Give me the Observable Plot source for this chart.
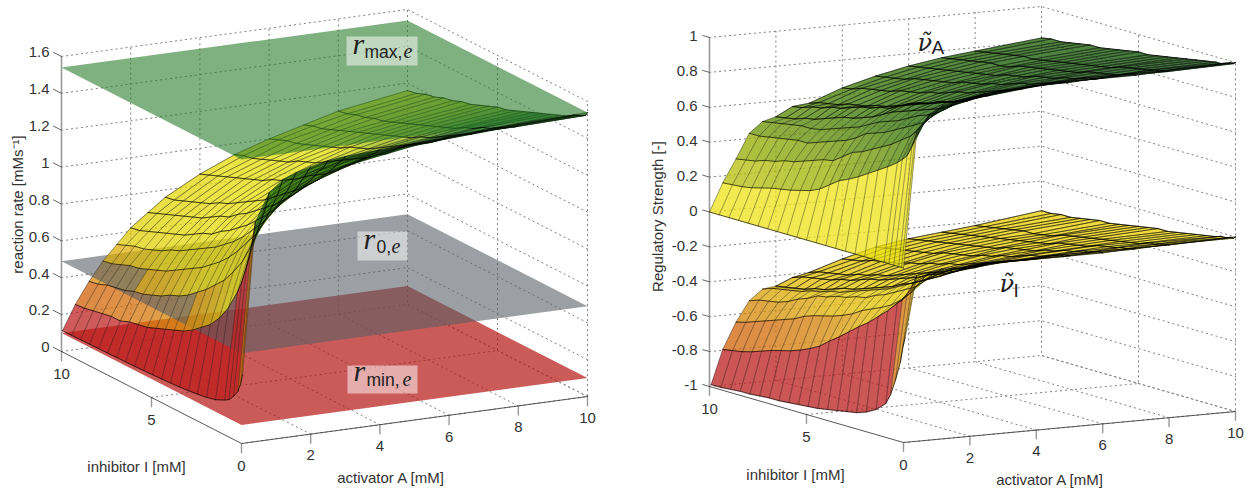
<!DOCTYPE html>
<html><head><meta charset="utf-8">
<script src="https://cdn.jsdelivr.net/npm/d3@7"></script>
<script src="https://cdn.jsdelivr.net/npm/@observablehq/plot@0.6"></script>
<style>body{margin:0;background:#fff}#c{display:flex;width:1245px;height:493px}#c svg{flex:none;display:block}</style>
</head><body><div id="c"></div>
<script>
const inhibitorLevels=[0,.1,.25,.5,.75,1,1.5,2,2.5,3,3.5,4,4.5,5,5.5,6,6.5,7,7.5,8,8.5,9,9.5,10];
const activatorRate=[.03,.4,.8,1.2,1.6,2,2.5,3,4,5,6,7,8,10];
const activatorNuA=[0,.4,.8,1.2,1.6,2,2.5,3,4,5,6,7,8,10];
const activatorNuI=[.05,.4,.8,1.2,1.6,2,2.5,3,4,5,6,7,8,10];
// reaction rate: one row per inhibitor level, one value per activator level
const rateRows=[
[.37,1.19,1.34,1.40,1.43,1.45,1.47,1.48,1.49,1.50,1.51,1.52,1.53,1.54],
[.32,1.12,1.29,1.37,1.41,1.43,1.45,1.46,1.48,1.49,1.50,1.51,1.51,1.52],
[.27,1.03,1.23,1.32,1.37,1.40,1.42,1.44,1.46,1.48,1.49,1.50,1.50,1.51],
[.23,.92,1.15,1.25,1.31,1.35,1.39,1.41,1.44,1.46,1.47,1.48,1.49,1.50],
[.20,.83,1.07,1.19,1.26,1.30,1.35,1.37,1.41,1.44,1.45,1.46,1.47,1.49],
[.185,.76,1.00,1.13,1.21,1.26,1.31,1.34,1.39,1.42,1.43,1.45,1.46,1.47],
[.162,.65,.89,1.03,1.12,1.19,1.24,1.28,1.34,1.37,1.40,1.42,1.43,1.45],
[.15,.57,.81,.96,1.05,1.12,1.18,1.23,1.30,1.34,1.37,1.39,1.41,1.43],
[.142,.51,.74,.89,.99,1.06,1.13,1.18,1.25,1.30,1.34,1.36,1.38,1.41],
[.136,.47,.69,.83,.93,1.01,1.08,1.14,1.21,1.27,1.31,1.33,1.36,1.39],
[.131,.43,.64,.78,.88,.96,1.04,1.10,1.18,1.24,1.28,1.31,1.33,1.37],
[.128,.40,.60,.74,.84,.92,1.00,1.06,1.15,1.21,1.25,1.28,1.31,1.35],
[.125,.38,.56,.70,.80,.88,.96,1.02,1.11,1.18,1.22,1.26,1.29,1.33],
[.123,.36,.53,.67,.77,.85,.93,.99,1.08,1.15,1.20,1.24,1.27,1.32],
[.121,.34,.51,.64,.74,.81,.89,.96,1.05,1.12,1.18,1.22,1.25,1.30],
[.119,.32,.48,.61,.71,.79,.87,.93,1.03,1.10,1.15,1.20,1.23,1.28],
[.118,.31,.46,.58,.68,.76,.84,.90,1.00,1.08,1.13,1.18,1.21,1.26],
[.117,.30,.44,.56,.66,.73,.81,.88,.98,1.05,1.11,1.16,1.19,1.25],
[.116,.28,.43,.54,.63,.71,.79,.85,.96,1.03,1.09,1.14,1.17,1.23],
[.115,.28,.41,.52,.61,.69,.77,.83,.94,1.01,1.07,1.12,1.16,1.22],
[.114,.27,.40,.51,.59,.67,.75,.81,.92,.99,1.05,1.10,1.14,1.20],
[.113,.26,.39,.49,.58,.65,.73,.79,.90,.97,1.04,1.08,1.13,1.19],
[.112,.25,.37,.47,.56,.63,.71,.77,.88,.96,1.02,1.07,1.11,1.17],
[.112,.245,.36,.46,.54,.62,.69,.76,.86,.94,1.00,1.05,1.10,1.16]];
// regulatory strength of the activator: one column per activator level, one value per inhibitor level
const nuAColumns=[
[0,0,0,0,0,0,0,0,0,0,0,0,0,0,0,0,0,0,0,0,0,0,0,0],
[.77,.73,.68,.62,.59,.565,.525,.49,.455,.42,.39,.365,.325,.285,.26,.245,.23,.22,.21,.195,.18,.17,.165,.16],
[.87,.85,.82,.78,.74,.71,.67,.63,.60,.57,.54,.52,.48,.44,.43,.41,.39,.37,.36,.34,.33,.31,.30,.29],
[.91,.90,.88,.84,.81,.78,.75,.72,.69,.66,.64,.62,.58,.55,.53,.51,.49,.47,.47,.46,.45,.44,.43,.43],
[.93,.92,.90,.87,.85,.83,.80,.78,.75,.72,.70,.68,.65,.62,.60,.58,.56,.54,.53,.53,.52,.51,.50,.49],
[.94,.93,.92,.90,.88,.86,.83,.81,.79,.77,.75,.73,.70,.67,.65,.63,.62,.60,.58,.56,.55,.53,.52,.51],
[.95,.95,.94,.92,.90,.88,.86,.84,.83,.80,.79,.77,.74,.71,.70,.68,.67,.65,.63,.62,.60,.59,.57,.56],
[.96,.96,.95,.93,.91,.90,.87,.85,.82,.80,.78,.76,.74,.72,.70,.68,.67,.65,.64,.63,.61,.60,.59,.57],
[.97,.97,.96,.95,.93,.92,.90,.88,.86,.84,.82,.81,.79,.77,.76,.74,.73,.72,.70,.69,.68,.67,.65,.64],
[.98,.97,.97,.96,.95,.94,.92,.90,.89,.87,.85,.84,.82,.81,.80,.78,.77,.76,.75,.74,.72,.71,.70,.69],
[.98,.98,.97,.96,.96,.95,.93,.92,.90,.89,.88,.86,.85,.84,.82,.81,.80,.79,.78,.77,.76,.75,.74,.73],
[.98,.98,.98,.97,.96,.95,.94,.93,.92,.90,.89,.88,.87,.86,.85,.84,.82,.81,.81,.80,.79,.78,.77,.76],
[.99,.98,.98,.97,.97,.96,.95,.94,.93,.91,.90,.89,.88,.87,.86,.85,.84,.83,.83,.82,.81,.80,.79,.78],
[1,.99,.99,.98,.97,.97,.96,.95,.94,.93,.92,.91,.90,.90,.89,.88,.87,.86,.86,.85,.84,.83,.83,.82]];
// regulatory strength of the inhibitor, written as height above -1
const nuIHeightColumns=[
[.6,.55,.45,.34,.25,.19,.14,.11,.09,.08,.07,.06,.05,.045,.04,.035,.03,.03,.025,.02,.02,.015,.01,.01],
[.95,.92,.88,.83,.785,.76,.70,.65,.60,.56,.515,.47,.43,.385,.355,.33,.31,.295,.28,.26,.24,.225,.215,.205],
[.96,.95,.93,.89,.85,.81,.755,.71,.68,.655,.63,.595,.57,.55,.535,.52,.50,.47,.45,.43,.41,.39,.37,.355],
[.97,.97,.95,.93,.90,.87,.82,.79,.76,.73,.71,.68,.67,.65,.64,.62,.61,.58,.56,.53,.51,.50,.49,.47],
[.97,.97,.96,.94,.92,.90,.86,.83,.80,.77,.74,.72,.70,.68,.66,.64,.63,.61,.60,.58,.57,.56,.55,.53],
[.98,.97,.96,.94,.92,.91,.87,.84,.81,.78,.76,.73,.71,.69,.67,.65,.64,.62,.60,.59,.57,.56,.55,.54],
[.98,.98,.97,.95,.94,.92,.89,.86,.84,.82,.79,.77,.75,.73,.71,.70,.68,.66,.65,.63,.62,.61,.60,.58],
[.98,.98,.97,.96,.95,.93,.90,.88,.86,.83,.81,.79,.77,.75,.73,.71,.70,.68,.67,.65,.64,.63,.62,.60],
[.98,.98,.97,.96,.95,.94,.92,.90,.88,.86,.84,.82,.81,.79,.78,.76,.75,.73,.72,.71,.70,.68,.67,.66],
[.98,.98,.97,.97,.96,.95,.93,.92,.90,.88,.87,.85,.84,.82,.81,.80,.79,.77,.76,.75,.74,.73,.72,.71],
[.98,.98,.98,.97,.96,.96,.94,.93,.91,.90,.88,.87,.86,.85,.83,.82,.81,.80,.79,.78,.77,.76,.75,.74],
[.99,.98,.98,.97,.97,.96,.95,.94,.92,.91,.90,.89,.87,.86,.85,.84,.83,.82,.81,.80,.79,.78,.77,.76],
[.99,.99,.98,.98,.97,.97,.95,.94,.93,.92,.91,.90,.89,.88,.87,.85,.84,.83,.83,.82,.81,.80,.79,.78],
[1,.99,.99,.98,.98,.97,.96,.95,.94,.93,.92,.92,.91,.90,.89,.88,.87,.87,.86,.85,.84,.84,.83,.83]];
const planeMin={level:.1,fill:"#b51611",op:.7};
const planeZero={level:.49,fill:"#5a5f66",op:.6};
const planeMax={level:1.54,fill:"#2a7b2a",op:.6};
const rateTicks=[0,.2,.4,.6,.8,1,1.2,1.4,1.6];
const strengthTicks=[-1,-.8,-.6,-.4,-.2,0,.2,.4,.6,.8,1];
const activatorTicks=[0,2,4,6,8,10];
const inhibitorTicks=[0,5,10];

const INK="#333",FONT="Liberation Sans, Arial, sans-serif",SERIF="Liberation Serif, serif";
const rows=(cols)=>d3.transpose(cols);
const fmt=v=>String(Math.round(v*10)/10);

function panel(cfg){
  const {p,width,ticksZ,zFloor}=cfg;
  const P=(A,I,z)=>[p.x0+p.xA*A+p.xI*I,p.y0+p.yA*A+p.yI*I-(z-zFloor)*p.u];
  const zTop=ticksZ[ticksZ.length-1];
  const flat=list=>list.flatMap((pts,g)=>pts.map(([x,y])=>({x,y,g})));
  const line=(list,o)=>Plot.line(flat(list),{x:"x",y:"y",z:"g",...o});
  const grid=[];
  for(const z of ticksZ) grid.push([P(0,10,z),P(10,10,z),P(10,0,z)]);
  for(const a of activatorTicks.slice(1)) grid.push([P(a,0,zFloor),P(a,10,zFloor),P(a,10,zTop)]);
  for(const i of inhibitorTicks.slice(0,-1)) grid.push([P(0,i,zFloor),P(10,i,zFloor),P(10,i,zTop)]);
  const marks=[
    line(grid,{stroke:"#808080",strokeWidth:1,strokeDasharray:"1.2 3.8"}),
    line([[P(0,10,zFloor),P(0,10,zTop)]],{stroke:"#999",strokeWidth:1.6}),
    line(activatorTicks.map(a=>[P(a,0,zFloor),P(a,0,zFloor-.05)]).concat([[P(0,10,zFloor),P(0,10,zFloor-.05)],[P(0,5,zFloor),P(0,5,zFloor-.05)]]),{stroke:"#999",strokeWidth:1.4}),
    line(ticksZ.map(z=>[P(0,10,z),P(0,10+cfg.zTick,z)]),{stroke:"#555",strokeWidth:.9}),
    line([[P(0,10,zFloor),P(0,0,zFloor),P(10,0,zFloor)]],{stroke:"#444",strokeWidth:.9})
  ];
  const planeMark=pl=>{const z=pl.level,ring=[P(0,0,z),P(10,0,z),P(10,10,z),P(0,10,z),P(0,0,z)];
    return Plot.geo([{type:"Polygon",coordinates:[ring]}],{fill:pl.fill,fillOpacity:pl.op,stroke:"none"});};
  const surfaceMarks=(s,test,withMesh)=>{
    const out=[],nA=s.A.length,nI=inhibitorLevels.length,cells=[];
    const pt=(a,i)=>P(s.A[a],inhibitorLevels[i],s.rows[i][a]);
    for(let i=nI-2;i>=0;i--)for(let a=nA-2;a>=0;a--){
      const ring=[pt(a,i),pt(a+1,i),pt(a+1,i+1),pt(a,i+1),pt(a,i)];
      const mean=(s.rows[i][a]+s.rows[i][a+1]+s.rows[i+1][a]+s.rows[i+1][a+1])/4;
      if(!test(mean)) continue;
      const area=d3.sum(ring.slice(0,4),(q,k)=>{const r=ring[k+1];return q[0]*r[1]-r[0]*q[1];});
      cells.push({type:"Polygon",coordinates:[ring],level:area>0?s.under:s.rows[i+1][a]});
    }
    out.push(Plot.geo(cells,{fill:"level",stroke:"level",strokeWidth:.3,fillOpacity:s.op,strokeOpacity:s.op}));
    if(withMesh){
      const iLines=inhibitorLevels.map((_,i)=>s.A.map((_,a)=>pt(a,i)));
      const aLines=s.A.map((_,a)=>inhibitorLevels.map((_,i)=>pt(a,i)));
      out.push(line(iLines,{stroke:"#222",strokeOpacity:.6,strokeWidth:.7}));
      out.push(line(aLines,{stroke:"#000",strokeOpacity:.85,strokeWidth:.8}));
      const k=s.A.indexOf(2);
      const farI=inhibitorLevels.map((_,i)=>s.A.slice(k).map((_,a)=>pt(a+k,i)));
      const farA=s.A.slice(k).map((_,a)=>inhibitorLevels.map((_,i)=>pt(a+k,i)));
      out.push(line(farI.concat(farA),{stroke:"#000",strokeOpacity:.5,strokeWidth:s.far}));
    }
    return out;
  };
  for(const l of cfg.layers){
    if(l.plane) marks.push(planeMark(l.plane));
    else marks.push(...surfaceMarks(l.surface,l.test||(()=>true),l.mesh));
  }
  if(cfg.boxes) marks.push(Plot.geo(cfg.boxes.map(([x1,y1,x2,y2])=>({type:"Polygon",coordinates:[[[x1,y1],[x2,y1],[x2,y2],[x1,y2],[x1,y1]]]})),{fill:"#fff",fillOpacity:.5,stroke:"none"}));
  const tx={fill:INK,fontSize:15,fontFamily:FONT};
  marks.push(Plot.text(ticksZ.map(z=>{const[x,y]=P(0,10,z);return{x:x-cfg.zLabelGap,y:y+cfg.zLabelDy,t:fmt(z)}}),{x:"x",y:"y",text:"t",textAnchor:"end",...tx}));
  marks.push(Plot.text(activatorTicks.slice(1).map(a=>{const[x,y]=P(a,0,zFloor);return{x,y:y+21.5,t:String(a)}}),{x:"x",y:"y",text:"t",...tx}));
  marks.push(Plot.text(inhibitorTicks.map(i=>{const[x,y]=P(0,i,zFloor);return{x,y:y+22.5,t:String(i)}}),{x:"x",y:"y",text:"t",...tx}));
  for(const t of cfg.titles) marks.push(Plot.text([t],{x:"x",y:"y",text:"t",rotate:t.rotate||0,...tx}));
  for(const a of cfg.notes) marks.push(Plot.text([a],{x:"x",y:"y",text:"t",textAnchor:"start",lineAnchor:"bottom",fill:"#222",fontSize:a.size,fontFamily:a.family||(a.serif?SERIF:FONT),fontStyle:a.serif?"italic":"normal"}));
  return Plot.plot({width,height:493,margin:0,projection:d3.geoIdentity(),color:cfg.color,style:{background:"#fff",overflow:"hidden"},marks});
}

const rateSurface={A:activatorRate,rows:rateRows,op:.72,under:1.45,far:.35};
const left=panel({
  width:622,zFloor:0,ticksZ:rateTicks,zTick:.45,zLabelGap:12,zLabelDy:-4,
  p:{x0:241,y0:443,xA:34.6,yA:-4.7,xI:-18,yI:-9.2,u:184.4},
  color:{type:"linear",domain:[.1,.24,.245,.36,.46,.56,.9,1.1,1.25,1.35,1.54],range:["#bd1a1a","#bd1a1a","#d05d01","#d78704","#ddab01","#e0cf00","#e5dc00","#e0dc00","#7ca800","#046400","#046400"]},
  layers:[{plane:planeMin},{surface:rateSurface,test:m=>m<.49},{plane:planeZero},{surface:rateSurface,test:m=>m>=.49,mesh:true},{plane:planeMax}],
  boxes:[[346,36,417,65],[357,231,407,260],[347,365,417,393]],
  titles:[{x:18,y:204,t:"reaction rate [mMs⁻¹]",rotate:-90},{x:136,y:467,t:"inhibitor I [mM]"},{x:390,y:478,t:"activator A [mM]"}],
  notes:[
    {x:352,y:53,t:"r",size:30,serif:1},{x:364,y:57,t:"max,",size:17.5},{x:403,y:57,t:"e",size:20,serif:1},
    {x:363,y:248,t:"r",size:30,serif:1},{x:376,y:252,t:"0,",size:17.5},{x:391,y:252,t:"e",size:20,serif:1},
    {x:353,y:380,t:"r",size:30,serif:1},{x:366,y:385,t:"min,",size:17.5},{x:402,y:385,t:"e",size:20,serif:1}]
});
const NU="DejaVu Serif, serif";
const right=panel({
  width:623,zFloor:-1,ticksZ:strengthTicks,zTick:.35,zLabelGap:12,zLabelDy:-1,
  p:{x0:281,y0:442,xA:33.2,yA:-3.1,xI:-19.4,yI:-5.6,u:174.5},
  color:{type:"linear",domain:[-1,-.8,-.795,-.645,-.53,-.45,-.3,-.1,0,.16,.3,.43,.55,.7,.85,1],range:["#bb1c1c","#bb1c1c","#d06308","#d58707","#d9a007","#e0b900","#e5cb00","#edd000","#ede315","#b5bf07","#90ab00","#6b9300","#488000","#296b00","#0d5500","#003800"]},
  layers:[{surface:{A:activatorNuI,rows:rows(nuIHeightColumns).map(r=>r.map(v=>v-1)),op:.75,under:-.05,far:1},mesh:true},{surface:{A:activatorNuA,rows:rows(nuAColumns),op:.75,under:.95,far:.7},mesh:true}],
  titles:[{x:36,y:216,t:"Regulatory Strength [-]",rotate:-90},{x:173,y:475,t:"inhibitor I [mM]"},{x:427,y:480,t:"activator A [mM]"}],
  notes:[{x:295,y:50,t:"ν̃",size:24,serif:1,family:NU},{x:309,y:53,t:"A",size:19},{x:377,y:291,t:"ν̃",size:24,serif:1,family:NU},{x:391,y:296,t:"I",size:19}]
});
document.getElementById("c").append(left,right);
</script></body></html>
